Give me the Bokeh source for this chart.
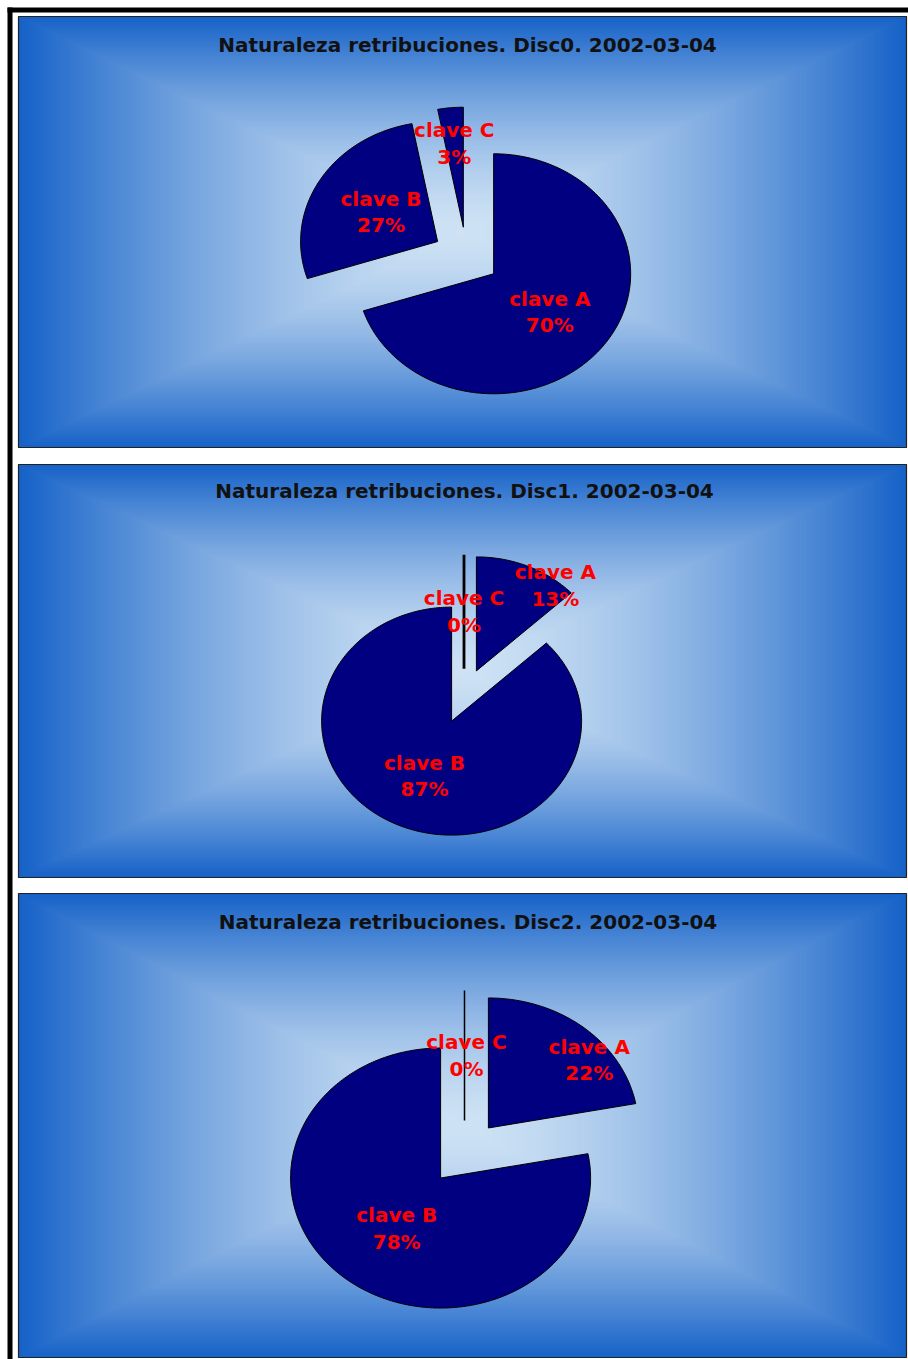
import numpy as np
from bokeh.plotting import figure
from bokeh.models import Range1d
from bokeh.core.properties import value
from bokeh.embed import file_html
from bokeh.resources import INLINE

# ---------------- data ----------------
categories = ["clave A", "clave B", "clave C"]
disc0_values = [70, 27, 3]
disc1_values = [13, 87, 0]
disc2_values = [22, 78, 0]
chart_titles = [
    "Naturaleza retribuciones. Disc0. 2002-03-04",
    "Naturaleza retribuciones. Disc1. 2002-03-04",
    "Naturaleza retribuciones. Disc2. 2002-03-04",
]
all_values = [disc0_values, disc1_values, disc2_values]

# ---------------- layout (pixels) ----------------
W, H = 908, 1359
panels = [
    dict(x0=18, x1=906, y0=16, y1=447, cx=466, cy=256, rx=137, ry=120, e=0.245,
         tx=467, ty=44, label_k=[0.52, 0.48, 0.70], label_nudge=[2, 0, 0], zero_w=1.5),
    dict(x0=18, x1=906, y0=464, y1=877, cx=463.5, cy=695.5, rx=130, ry=114, e=0.24,
         tx=464, ty=490, label_k=[0.965, 0.525, 0.5], label_nudge=[15.6, 0, 0], zero_w=2.8),
    dict(x0=18, x1=906, y0=893, y1=1357, cx=464, cy=1152.5, rx=150, ry=130, e=0.25,
         tx=467.5, ty=921, label_k=[0.852, 0.486, 0.5], label_nudge=[12.5, -2.6, 1.5], zero_w=1.5),
]

EDGE = np.array([22, 98, 200], dtype=float)
CENTER = np.array([206, 226, 244], dtype=float)

p = figure(width=W, height=H, x_range=Range1d(0, W), y_range=Range1d(H, 0),
           output_backend="svg", toolbar_location=None, min_border=0)
p.axis.visible = False
p.grid.visible = False
p.outline_line_color = None
p.background_fill_color = "white"
p.border_fill_color = "white"

for pan, vals, title in zip(panels, all_values, chart_titles):
    x0, x1, y0, y1 = pan["x0"], pan["x1"], pan["y0"], pan["y1"]
    mx, my = (x0 + x1) / 2, (y0 + y1) / 2
    hw, hh = (x1 - x0) / 2, (y1 - y0) / 2
    # rectangular gradient background (concentric rectangles)
    N = 120
    L, R, T, B, C = [], [], [], [], []
    for i in range(N):
        t = 1 - i / N
        s = t ** 1.5
        col = CENTER * (1 - s) + EDGE * s
        L.append(mx - hw * t); R.append(mx + hw * t)
        T.append(my - hh * t); B.append(my + hh * t)
        C.append("#%02x%02x%02x" % tuple(int(round(c)) for c in col))
    p.quad(left=L, right=R, top=T, bottom=B, fill_color=C, line_color=None)
    # panel border
    p.quad(left=[x0], right=[x1], top=[y0], bottom=[y1], fill_color=None,
           line_color="#222222", line_width=1.2)

    # pie slices (exploded, elliptical)
    total = float(sum(vals))
    cx, cy, rx, ry, e = pan["cx"], pan["cy"], pan["rx"], pan["ry"], pan["e"]
    xs, ys, lw, lx, ly, ltext = [], [], [], [], [], []
    acc = 0.0
    for k, (cat, v) in enumerate(zip(categories, vals)):
        a0 = acc / total * 360.0
        acc += v
        a1 = acc / total * 360.0
        mid = np.radians((a0 + a1) / 2)
        vx = cx + e * rx * np.sin(mid)
        vy = cy - e * ry * np.cos(mid)
        n = max(2, int(a1 - a0) + 2)
        angs = np.radians(np.linspace(a0, a1, n))
        px = [vx] + list(vx + rx * np.sin(angs)) + [vx]
        py = [vy] + list(vy - ry * np.cos(angs)) + [vy]
        xs.append(px); ys.append(py)
        lw.append(pan["zero_w"] if v == 0 else 1.0)
        la = mid + np.radians(pan["label_nudge"][k])
        kk = pan["label_k"][k]
        lx.append(vx + kk * rx * np.sin(la))
        ly.append(vy - kk * ry * np.cos(la))
        ltext.append("%s\n%d%%" % (cat, round(v / total * 100)))
    p.patches(xs=xs, ys=ys, fill_color="#000080", line_color="black", line_width=lw)
    p.text(x=lx, y=ly, text=ltext, text_font=value("DejaVu Sans"), text_font_style="bold",
           text_font_size="20px", text_color="#ff0000", text_align="center",
           text_baseline="middle", text_line_height=1.1)
    # title
    p.text(x=[pan["tx"]], y=[pan["ty"]], text=[title], text_font=value("DejaVu Sans"),
           text_font_style="bold", text_font_size="20px", text_color="#111111",
           text_align="center", text_baseline="middle")

# outer black frame (top and left)
p.quad(left=[7, 7], right=[920, 12], top=[7, 7], bottom=[12, 1370],
       fill_color="black", line_color=None)

open("out.html", "w").write(file_html(p, INLINE))
